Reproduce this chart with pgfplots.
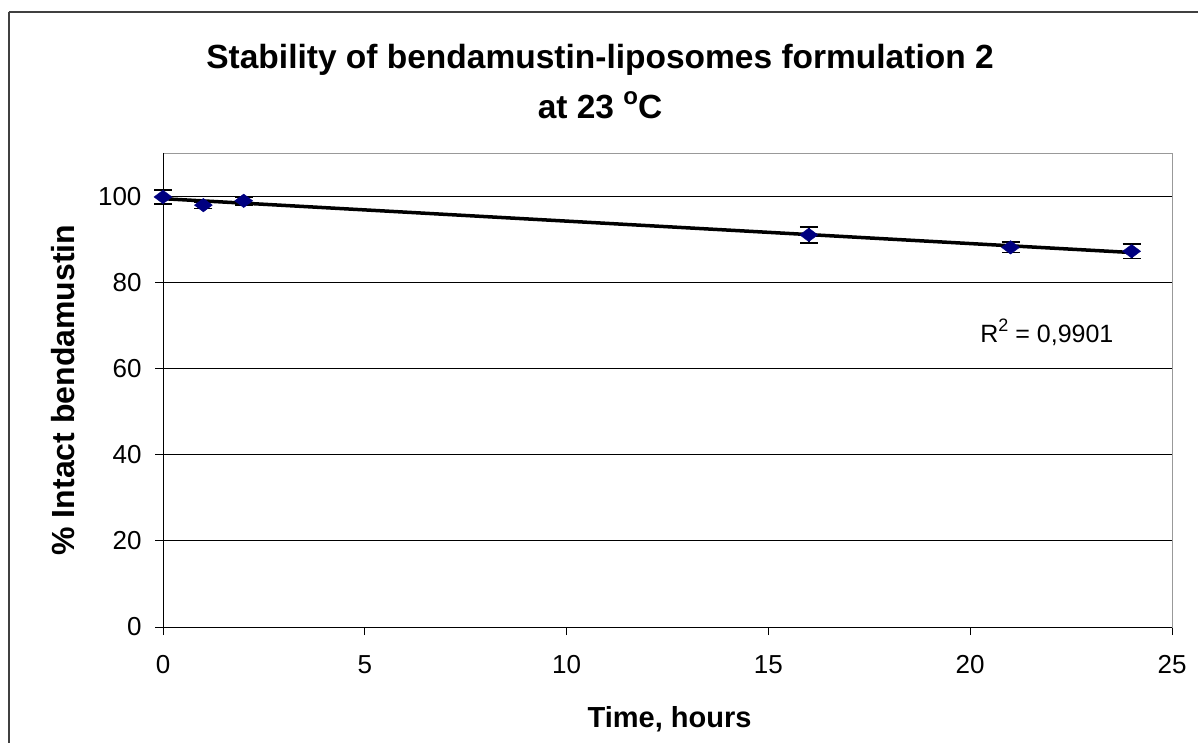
\documentclass[border=0pt]{standalone}
\usepackage{pgfplots}
\pgfplotsset{compat=1.18}
\usepackage{fontspec}
\setmainfont{Liberation Sans}
\definecolor{navy}{HTML}{000080}
\begin{document}
\begin{tikzpicture}[x=1pt,y=1pt]
\useasboundingbox (0,0) rectangle (1198,742);
\draw[line width=2pt,black!75] (8.5,730) -- (1220,730);
\draw[line width=2pt,black!75] (8.5,730) -- (8.5,-20);
\node[font=\fontsize{33.5}{38}\selectfont\bfseries, anchor=base] at (600,673) {Stability of bendamustin-liposomes formulation 2};
\node[font=\fontsize{33.5}{38}\selectfont\bfseries, anchor=base] at (600,623) {at 23 \raisebox{0.42em}{\fontsize{24}{28}\selectfont o}C};
\begin{axis}[
  at={(163pt,115pt)}, anchor=south west,
  scale only axis, width=1009pt, height=474pt,
  xmin=0, xmax=25, ymin=0, ymax=110,
  xtick={0,5,10,15,20,25}, ytick={0,20,40,60,80,100},
  tick align=outside, major tick length=8pt,
  xtick pos=bottom, ytick pos=left,
  tick style={black, line width=0.8pt},
  ymajorgrids, grid style={black, line width=0.8pt},
  axis line style={draw=gray!80, line width=0.8pt},
  /pgf/number format/assume math mode=true,
  ticklabel style={font=\fontsize{26}{30}\selectfont},
  xticklabel style={yshift=-17pt},
  yticklabel style={xshift=-10pt},
  xlabel={Time, hours}, ylabel={\% Intact bendamustin},
  xlabel style={font=\fontsize{29}{34}\selectfont\bfseries, at={(axis description cs:0.502,-0.211)}, anchor=base},
  ylabel style={font=\fontsize{32}{36}\selectfont\bfseries, at={(axis description cs:-0.099,0.5)}, anchor=center},
  clip=false,
]
\draw[black, line width=0.8pt] (axis cs:0,110) -- (axis cs:0,0) -- (axis cs:25,0);
\addplot[black, line width=3.5pt] coordinates {(0,99.4) (24,86.9)};
\addplot[only marks, mark=diamond*, mark size=9pt, mark options={rotate=90, fill=navy, draw=navy},
  error bars/.cd, y dir=both, y explicit,
  error bar style={black, line width=1.8pt},
  error mark options={rotate=90, mark size=9pt, line width=1.8pt, black}]
  coordinates {
  (0,99.8) +- (0,1.6)
  (1,97.9) +- (0,0.8)
  (2,98.9) +- (0,0.9)
  (16,91.0) +- (0,1.8)
  (21,88.1) +- (0,1.2)
  (24,87.2) +- (0,1.7)
  };
\node[font=\fontsize{25}{30}\selectfont, anchor=base] at (axis cs:21.9,66.1) {R\raisebox{0.42em}{\fontsize{18}{20}\selectfont 2} = 0,9901};
\end{axis}
\end{tikzpicture}
\end{document}
